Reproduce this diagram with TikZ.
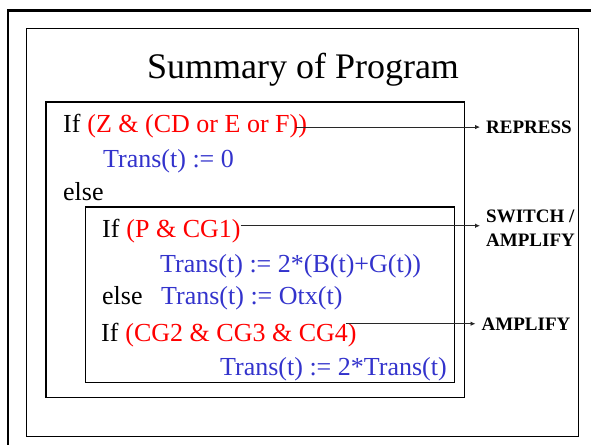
\documentclass[tikz,border=0pt]{standalone}
\usepackage{fontspec}
\setmainfont{Liberation Serif}
\usetikzlibrary{arrows.meta}
\definecolor{codeblue}{RGB}{51,51,204}
\definecolor{codered}{RGB}{255,0,0}
\definecolor{arrowgray}{RGB}{40,40,40}
\begin{document}
\begin{tikzpicture}[x=1pt,y=-1pt,
  code/.style={inner sep=0pt, anchor=base west, font=\fontsize{26}{30}\selectfont},
  redcode/.style={code, text=codered},
  bluecode/.style={code, text=codeblue},
  lab/.style={inner xsep=6pt, inner ysep=0pt, anchor=base west, align=left, font=\fontsize{19}{24}\selectfont\bfseries},
  arr/.style={draw=arrowgray, line width=0.8pt, -{Latex[length=5pt,width=4.5pt]}},
  boxline/.style={draw=black, line width=1.7pt}
]
\useasboundingbox (0,0) rectangle (591,444);
% slide frames
\draw[line width=2.4pt] (8,460) -- (8,10.5) -- (600,10.5);
\draw[line width=1pt] (26,29) rectangle (578,436.5);
% title
\node[inner sep=0pt, anchor=base, font=\fontsize{36}{40}\selectfont] (title) at (303,78) {Summary of Program};
% code boxes
\draw[boxline] (46,101.7) rectangle (464.5,397.5);
\draw[boxline, line width=1.5pt] (85.5,207) rectangle (454.5,382.5);
% code lines
\node[code] (if1) at (63,132) {If};
\node[redcode] (c1) at ([xshift=6.5pt]if1.base east) {(Z \& (CD or E or F))};
\node[bluecode] (t1) at (103,167) {Trans(t) := 0};
\node[code] (else1) at (63,200) {else};
\node[code] (if2) at (102,237) {If};
\node[redcode] (c4) at ([xshift=6.5pt]if2.base east) {(P \& CG1)};
\node[bluecode] (t2) at (160,272) {Trans(t) := 2*(B(t)+G(t))};
\node[code] (else2) at (102,304) {else};
\node[bluecode] (t3) at (161,304) {Trans(t) := Otx(t)};
\node[code] (if3) at (101,341) {If};
\node[redcode] (c7) at ([xshift=6.5pt]if3.base east) {(CG2 \& CG3 \& CG4)};
\node[bluecode] (t4) at (220,375) {Trans(t) := 2*Trans(t)};
% labels
\node[lab] (lab1) at (480,133.3) {REPRESS};
\node[lab] (lab2) at (480,246.7) {SWITCH /\\AMPLIFY};
\node[lab] (lab3) at (475.5,330) {AMPLIFY};
% arrows
\coordinate (s1) at ([xshift=-11pt]c1.east);
\coordinate (s2) at ([yshift=5pt]c4.east);
\coordinate (s3) at ([xshift=-11pt]c7.east);
\draw[arr] (s1 |- lab1.west) -- (lab1.west);
\draw[arr] (s2) -- (s2 -| lab2.west);
\draw[arr] (s3 |- lab3.west) -- (lab3.west);
\end{tikzpicture}
\end{document}
